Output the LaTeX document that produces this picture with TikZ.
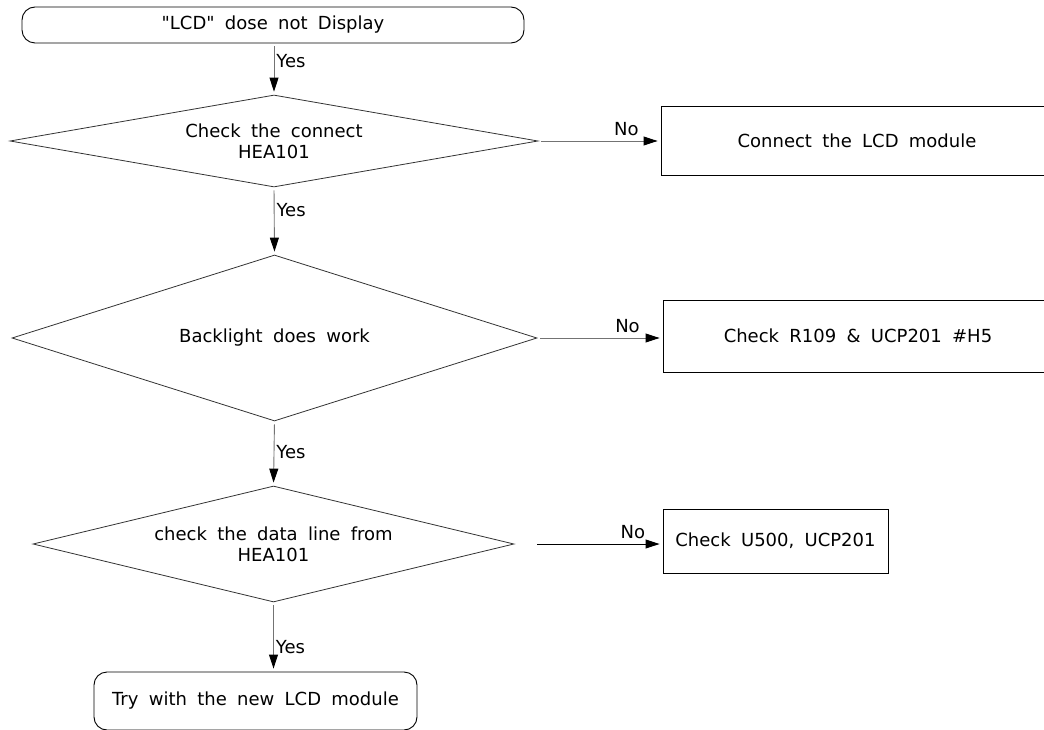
\documentclass[tikz,border=0pt]{standalone}
\usepackage{fontspec}
\setmainfont{DejaVu Sans}[WordSpace=1.8,Ligatures=TeXOff]
\usetikzlibrary{shapes.geometric,arrows.meta}
\begin{document}
\begin{tikzpicture}[x=1pt,y=-1pt,
  every node/.style={font=\fontsize{18}{21}\selectfont},
  termbox/.style={draw=black,line width=0.9pt,rounded corners=13pt,inner sep=0pt},
  procbox/.style={draw=black,line width=0.9pt,inner sep=0pt},
  decbox/.style={draw=black!80,line width=0.8pt,diamond,inner sep=0pt},
  arr/.style={draw=black!55,line width=0.9pt,-{Triangle[length=14pt,width=9pt,color=black]},shorten <=3pt,shorten >=3pt},
  lbl/.style={inner sep=2pt,text=black}
]
\useasboundingbox (0,0) rectangle (1044,730);
\clip (0,0) rectangle (1044,730);

\node[termbox,minimum width=502pt,minimum height=36pt] (start) at (273,25) {"LCD" dose not Display};

\node[decbox,minimum width=528pt,minimum height=92pt] (d1) at (274,141) {};
\node[align=center,inner sep=0pt] (t1) at (d1.center) {Check the connect\\HEA101};
\node[procbox,minimum width=392pt,minimum height=69pt] (b1) at (857,140.5) {Connect the LCD module};

\node[decbox,minimum width=525pt,minimum height=166pt] (d2) at (274.5,338) {};
\node[inner sep=0pt] (t2) at (d2.center) {Backlight does work};
\node[procbox,minimum width=390pt,minimum height=72pt] (b2) at (858,336) {Check R109 \& UCP201 \#H5};

\node[decbox,minimum width=481pt,minimum height=116pt] (d3) at (273.5,544) {};
\node[align=center,inner sep=0pt] (t3) at (d3.center) {check the data line from\\HEA101};
\node[procbox,minimum width=225pt,minimum height=64pt] (b3) at (775.5,541) {Check U500, UCP201};

\node[termbox,minimum width=323pt,minimum height=58pt] (end) at (255.5,701) {Try with the new LCD module};

\draw[arr] (start.south -| d1.north) -- node[lbl,right,pos=0.35] {Yes} (d1.north);
\draw[arr] (d1.south) -- node[lbl,right,pos=0.33] {Yes} (d2.north);
\draw[arr] (d2.south) -- node[lbl,right,pos=0.47] {Yes} (d3.north);
\draw[arr] (d3.south) -- node[lbl,right,pos=0.64] {Yes} (d3.south |- end.north);

\draw[arr] (d1.east) -- node[lbl,above=3pt,pos=0.72] {No} (d1.east -| b1.west);
\draw[arr] (d2.east) -- node[lbl,above=3pt,pos=0.72] {No} (d2.east -| b2.west);
\draw[arr,draw=black,shorten <=23pt] (d3.east) -- node[lbl,above=3pt,pos=0.8] {No} (d3.east -| b3.west);
\end{tikzpicture}
\end{document}
